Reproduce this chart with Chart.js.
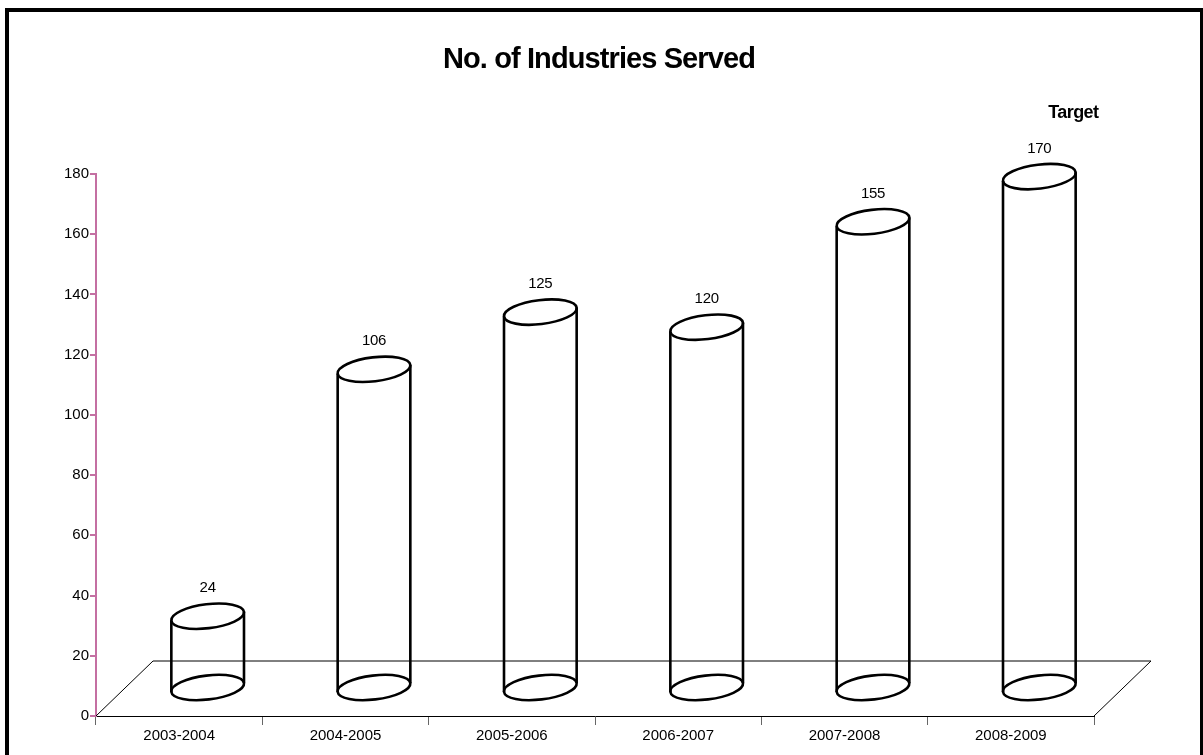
<!DOCTYPE html>
<html>
<head>
<meta charset="utf-8">
<script src="https://cdn.jsdelivr.net/npm/chart.js@4.4.1/dist/chart.umd.min.js"></script>
<style>
  html, body { margin: 0; padding: 0; background: #fff; }
  #wrap { width: 1203px; height: 755px; position: relative; }
</style>
</head>
<body>
<div id="wrap"><canvas id="chart"></canvas></div>
<script>
// Дані графіка
const categories = ['2003-2004', '2004-2005', '2005-2006', '2006-2007', '2007-2008', '2008-2009'];
const industries = [24, 106, 125, 120, 155, 170];
const chartTitle = 'No. of Industries Served';
const targetLabel = 'Target';

const axisPink = '#c46fa2';
const fontFamily = '"Liberation Sans", Arial, sans-serif';
const depthX = 57;   // зсув "глибини" підлоги
const depthY = 55;

// Рамка, підлога і циліндри
const cylinderPlugin = {
  id: 'cylinders',
  beforeDraw(chart) {
    const ctx = chart.ctx;
    ctx.save();
    ctx.fillStyle = '#fff';
    ctx.fillRect(0, 0, chart.width, chart.height);
    ctx.strokeStyle = '#000';
    ctx.lineWidth = 4;
    ctx.strokeRect(7, 10, 1195, 800);
    ctx.restore();
  },
  beforeDatasetsDraw(chart) {
    const { ctx, chartArea: a } = chart;
    ctx.save();
    ctx.strokeStyle = '#000';
    ctx.lineWidth = 1;
    ctx.beginPath();
    ctx.moveTo(a.left, a.bottom);
    ctx.lineTo(a.left + depthX, a.bottom - depthY);
    ctx.lineTo(a.right + depthX, a.bottom - depthY);
    ctx.lineTo(a.right, a.bottom);
    ctx.stroke();
    ctx.restore();
  },
  afterDatasetsDraw(chart) {
    const ctx = chart.ctx;
    const meta = chart.getDatasetMeta(0);
    const rot = -0.12;
    ctx.save();
    ctx.strokeStyle = '#000';
    ctx.lineWidth = 2.6;
    meta.data.forEach((bar, i) => {
      const rx = bar.width / 2;
      const ry = 12;
      const cx = bar.x + depthX / 2;
      const top = bar.y - depthY / 2;
      const bottom = bar.base - depthY / 2;
      const ex = rx * Math.cos(rot);
      const ey = rx * Math.sin(rot);

      ctx.beginPath();
      ctx.ellipse(cx, bottom, rx, ry, rot, 0, Math.PI * 2);
      ctx.stroke();

      ctx.beginPath();
      ctx.moveTo(cx - ex, top - ey);
      ctx.lineTo(cx - ex, bottom - ey);
      ctx.moveTo(cx + ex, top + ey);
      ctx.lineTo(cx + ex, bottom + ey);
      ctx.stroke();

      ctx.beginPath();
      ctx.ellipse(cx, top, rx, ry, rot, 0, Math.PI * 2);
      ctx.stroke();

      // підпис значення
      ctx.fillStyle = '#000';
      ctx.font = '15px ' + fontFamily;
      ctx.letterSpacing = '-0.3px';
      ctx.textAlign = 'center';
      ctx.textBaseline = 'middle';
      ctx.fillText(String(industries[i]), cx, top - 28);

      if (i === industries.length - 1) {
        ctx.font = 'bold 18px ' + fontFamily;
        ctx.letterSpacing = '-0.6px';
        ctx.fillText(targetLabel, cx + 34, top - 64);
      }
      ctx.letterSpacing = '0px';
    });

    // заголовок
    ctx.fillStyle = '#000';
    ctx.font = 'bold 29px ' + fontFamily;
    ctx.letterSpacing = '-0.9px';
    ctx.textAlign = 'center';
    ctx.textBaseline = 'alphabetic';
    ctx.fillText(chartTitle, 599, 68);
    ctx.letterSpacing = '0px';
    ctx.restore();
  }
};

new Chart(document.getElementById('chart'), {
  type: 'bar',
  data: {
    labels: categories,
    datasets: [{
      label: chartTitle,
      data: industries,
      backgroundColor: 'rgba(0,0,0,0)',
      borderWidth: 0,
      categoryPercentage: 1,
      barPercentage: 0.44
    }]
  },
  options: {
    responsive: true,
    maintainAspectRatio: false,
    animation: false,
    layout: { padding: { top: 174, right: 109, left: 0, bottom: 0 } },
    plugins: {
      legend: { display: false },
      title: { display: false },
      tooltip: { enabled: false }
    },
    scales: {
      x: {
        afterFit(scale) { scale.height = 39; },
        grid: {
          offset: true,
          drawOnChartArea: false,
          drawTicks: true,
          tickLength: 9,
          color: '#666'
        },
        border: { color: '#000', width: 1 },
        ticks: {
          color: '#000',
          padding: 2,
          maxRotation: 0,
          font: { family: fontFamily, size: 15 }
        }
      },
      y: {
        min: 0,
        max: 180,
        afterFit(scale) { scale.width = 96; },
        grid: {
          drawOnChartArea: false,
          drawTicks: true,
          tickLength: 6,
          lineWidth: 2,
          color: axisPink
        },
        border: { color: axisPink, width: 2 },
        ticks: {
          stepSize: 20,
          color: '#000',
          padding: 1,
          font: { family: fontFamily, size: 15 }
        }
      }
    }
  },
  plugins: [cylinderPlugin]
});
</script>
</body>
</html>
